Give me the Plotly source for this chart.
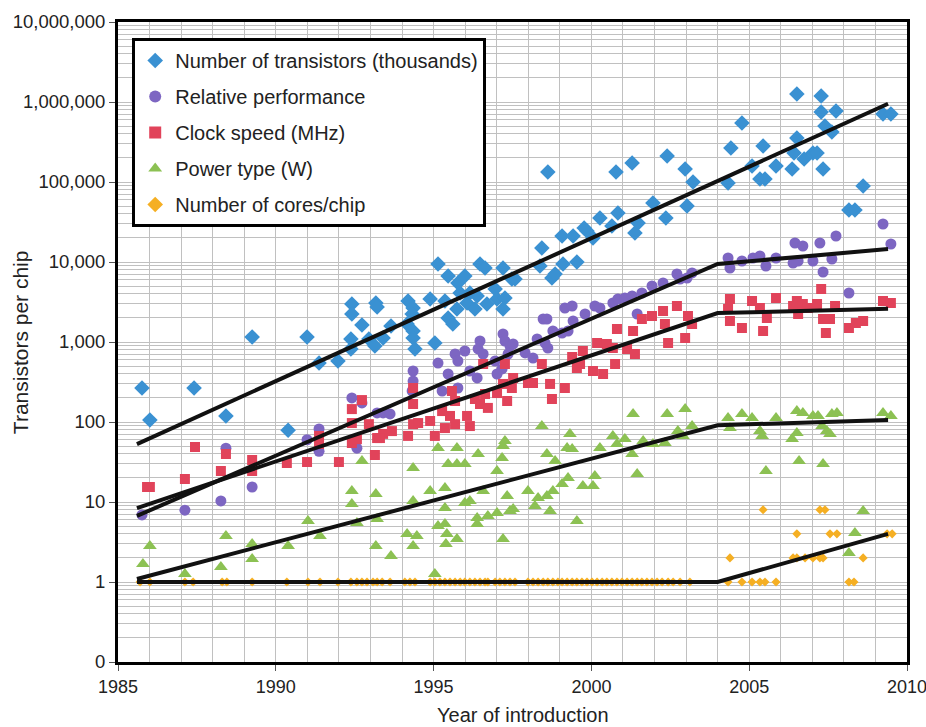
import plotly.graph_objects as go

# ---------------- data (year, value) ----------------
transistors = [
    (1985.76, 266), (1986.01, 106), (1987.41, 266), (1988.42, 119), (1989.25, 1155),
    (1990.39, 79), (1990.99, 1155), (1991.37, 546), (1991.97, 579), (1992.41, 2985),
    (1992.41, 2239), (1992.73, 1631), (1992.38, 1090), (1992.38, 818), (1993.17, 3073),
    (1993.21, 2738), (1992.95, 1090), (1993.14, 891), (1993.40, 1122), (1993.65, 1585),
    (1994.19, 3255), (1994.35, 2661), (1994.32, 2239), (1994.16, 1679), (1994.35, 1372),
    (1994.35, 1122), (1994.41, 818), (1994.89, 3447), (1995.04, 972), (1995.14, 9441),
    (1995.46, 6683), (1995.77, 5464), (1995.84, 4098), (1995.99, 6683), (1995.36, 3255),
    (1995.46, 1995), (1995.61, 1679), (1995.74, 2585), (1996.06, 3073), (1996.31, 2585),
    (1996.15, 4098), (1996.38, 3758), (1996.47, 9441), (1996.63, 8414), (1996.69, 2985),
    (1996.95, 4597), (1997.01, 3447), (1997.20, 8414), (1997.26, 3548), (1997.20, 2585),
    (1997.48, 6131), (1997.58, 6131), (1998.43, 14962), (1998.37, 8913), (1998.75, 6310),
    (1998.85, 7079), (1999.07, 21135), (1998.62, 133352), (1999.10, 9441), (1999.42, 21135),
    (1999.86, 24409), (2001.38, 23041), (1999.77, 26607), (2000.05, 19953), (2000.27, 35481),
    (2000.65, 28184), (2000.84, 40973), (2000.78, 133352), (2001.29, 172783), (2001.48, 30726),
    (2001.95, 54638), (2002.36, 35481), (2002.40, 211349), (2002.97, 145378), (2003.03, 50119),
    (2003.22, 100000), (2004.33, 97163), (2004.42, 266073), (2004.77, 546387), (2005.09, 158489),
    (2005.34, 109018), (2005.50, 109018), (2005.44, 281838), (2005.85, 158489), (2006.36, 145378),
    (2006.42, 230409), (2006.51, 354813), (2006.51, 1258925), (2006.74, 193865), (2007.02, 230409),
    (2007.15, 230409), (2007.34, 145378), (2007.28, 1188502), (2007.28, 749894), (2007.40, 501187),
    (2007.62, 421697), (2007.75, 772000), (2008.16, 44668), (2008.35, 44668), (2008.61, 89125),
    (2009.24, 707946), (2009.49, 707946), (1999.54, 10000),
]

performance = [
    (1985.76, 6.9), (1987.12, 7.9), (1988.26, 10.3), (1989.25, 15.4), (1988.42, 47),
    (1990.99, 60), (1991.37, 82), (1991.37, 43), (1992.41, 200), (1992.73, 173),
    (1992.57, 47), (1993.21, 130), (1993.40, 130), (1993.62, 126), (1994.35, 434),
    (1994.35, 325), (1994.32, 244), (1995.14, 546), (1995.46, 398), (1995.68, 708),
    (1995.77, 579), (1995.99, 772), (1995.77, 266), (1995.27, 244), (1996.15, 434),
    (1996.38, 355), (1996.41, 818), (1996.47, 1029), (1996.57, 708), (1996.95, 579),
    (1997.01, 398), (1997.20, 1259), (1997.26, 1029), (1997.42, 891), (1997.52, 944),
    (1997.36, 708), (1997.17, 460), (1997.90, 729), (1998.28, 1090), (1998.53, 972),
    (1998.62, 841), (1998.47, 1939), (1998.59, 1939), (1998.15, 631), (1998.78, 1372),
    (1999.07, 1296), (1999.26, 1372), (1999.16, 2661), (1999.39, 2818), (1999.42, 1830),
    (1999.80, 2239), (2000.11, 2818), (2000.27, 2661), (2000.68, 3073), (2000.84, 3447),
    (2001.06, 3548), (2001.29, 3758), (2001.45, 2239), (2001.60, 4098), (2001.92, 5012),
    (2002.27, 5464), (2002.71, 7079), (2002.81, 6131), (2003.03, 6310), (2003.19, 7291),
    (2004.33, 11220), (2004.39, 8414), (2004.77, 10292), (2005.12, 11220), (2005.34, 11885),
    (2005.53, 8913), (2005.85, 11220), (2006.45, 17278), (2006.55, 10292), (2006.70, 15849),
    (2006.39, 9716), (2007.02, 10292), (2007.24, 17278), (2007.34, 7499), (2007.62, 10901),
    (2007.75, 21135), (2008.16, 4098), (2009.24, 29854), (2009.49, 16788),
]

clock = [
    (1985.92, 15.4), (1986.01, 15.4), (1987.12, 19.4), (1987.44, 48.7), (1988.26, 24.4),
    (1988.42, 39.8), (1989.25, 33.5), (1989.25, 24.4), (1990.35, 30.7), (1990.99, 31.6),
    (1991.37, 66.8), (1991.37, 53.1), (1992.00, 31.6), (1992.41, 145), (1992.41, 97),
    (1992.41, 54.6), (1992.73, 188), (1992.95, 94), (1993.14, 38.7), (1993.21, 63),
    (1993.40, 71), (1993.68, 77), (1992.57, 61), (1993.30, 63), (1994.19, 67),
    (1994.35, 94), (1994.35, 168), (1994.35, 266), (1994.51, 97), (1994.89, 103),
    (1995.04, 67), (1995.27, 137), (1995.36, 84), (1995.52, 119), (1995.58, 244),
    (1995.68, 183), (1995.68, 94), (1996.06, 119), (1996.15, 89), (1996.31, 194),
    (1996.47, 168), (1996.63, 224), (1996.72, 150), (1996.57, 531), (1997.01, 230),
    (1997.20, 299), (1997.26, 531), (1997.33, 183), (1997.48, 266), (1997.52, 355),
    (1997.99, 307), (1998.15, 307), (1998.43, 531), (1998.69, 299), (1998.75, 194),
    (1999.16, 266), (1999.39, 649), (1999.54, 473), (1999.64, 531), (1999.73, 772),
    (2000.05, 434), (2000.18, 972), (2000.37, 398), (2000.49, 944), (2000.68, 841),
    (2000.75, 531), (2000.81, 1454), (2001.13, 818), (2001.32, 1372), (2001.38, 708),
    (2001.60, 1939), (2001.92, 2113), (2002.27, 2441), (2002.33, 1679), (2002.43, 972),
    (2002.71, 2818), (2003.06, 2113), (2002.97, 1122), (2003.19, 1679), (2004.39, 3447),
    (2004.33, 2585), (2004.39, 1830), (2004.77, 1496), (2005.09, 3255), (2005.34, 2661),
    (2005.44, 1372), (2005.56, 1995), (2005.85, 3548), (2006.39, 2818), (2006.51, 3255),
    (2006.55, 2239), (2006.70, 2985), (2006.86, 2661), (2007.15, 2985), (2007.28, 4597),
    (2007.34, 1939), (2007.43, 1296), (2007.56, 1939), (2007.72, 2818), (2008.16, 1496),
    (2008.38, 1728), (2008.61, 1830), (2009.24, 3255), (2009.49, 3073),
]

power = [
    (1985.79, 1.68), (1986.01, 2.82), (1987.12, 1.26), (1988.42, 3.76), (1988.26, 1.54),
    (1989.25, 2.98), (1989.25, 1.94), (1990.39, 2.82), (1991.02, 5.79), (1991.40, 3.76),
    (1992.41, 13.7), (1992.41, 9.44), (1992.57, 5.47), (1992.73, 32.5), (1993.17, 12.6),
    (1993.17, 2.82), (1993.21, 6.13), (1993.65, 2.11), (1994.16, 3.98), (1994.35, 2.82),
    (1994.47, 3.76), (1994.35, 26.6), (1994.35, 10.3), (1994.89, 13.7), (1995.14, 47.3),
    (1995.14, 5.01), (1995.36, 15.0), (1995.36, 8.41), (1995.36, 5.31), (1995.42, 3.98),
    (1995.39, 2.98), (1995.46, 29.9), (1995.74, 47.3), (1995.74, 3.45), (1995.74, 29.9),
    (1995.99, 29.9), (1995.99, 9.72), (1996.15, 10.3), (1996.38, 6.31), (1996.38, 5.31),
    (1996.41, 39.8), (1996.57, 13.7), (1996.72, 6.68), (1997.01, 24.4), (1997.01, 7.29),
    (1997.17, 35.5), (1997.20, 50.1), (1997.26, 57.9), (1997.20, 3.45), (1997.33, 11.9),
    (1997.42, 7.72), (1997.52, 8.18), (1997.99, 13.7), (1998.21, 8.91), (1998.31, 11.2),
    (1998.43, 89), (1998.59, 39.8), (1998.59, 11.9), (1998.69, 7.72), (1998.85, 32.5),
    (1998.78, 13.7), (1999.07, 16.8), (1999.23, 47.3), (1999.32, 70.8), (1999.39, 46),
    (1999.26, 20), (1999.54, 5.79), (1999.73, 15.8), (2000.05, 15.8), (2000.11, 21.1),
    (2000.27, 47.3), (2000.68, 66.8), (2000.81, 53.1), (2001.06, 61.3), (2001.29, 39.8),
    (2001.32, 126), (2001.45, 22.4), (2001.64, 57.9), (2001.95, 53.1), (2002.40, 126),
    (2002.33, 54.6), (2002.74, 77), (2002.97, 145), (2002.90, 66.8), (2003.19, 89),
    (2004.33, 112), (2004.39, 84), (2004.77, 126), (2005.09, 112), (2005.34, 77),
    (2005.41, 66.8), (2005.53, 24.4), (2005.85, 112), (2006.36, 61.3), (2006.51, 137),
    (2006.51, 72.9), (2006.58, 32.5), (2006.70, 130), (2007.02, 119), (2007.18, 119),
    (2007.31, 89), (2007.34, 29.9), (2007.46, 77), (2007.62, 126), (2007.78, 130),
    (2007.56, 70.8), (2008.16, 2.30), (2008.35, 4.10), (2008.61, 7.72), (2009.24, 130),
    (2009.49, 119), (1995.04, 1.26),
]

cores = [
    (1985.70, 1), (1986.01, 1), (1987.12, 1), (1987.38, 1), (1988.30, 1), (1988.45, 1),
    (1989.25, 1), (1990.35, 1), (1991.02, 1), (1991.40, 1), (1991.97, 1), (1992.38, 1),
    (1992.57, 1), (1992.73, 1), (1992.89, 1), (1993.08, 1), (1993.21, 1), (1993.37, 1),
    (1993.62, 1), (1994.09, 1), (1994.25, 1), (1994.41, 1), (1994.89, 1), (1995.04, 1),
    (1995.20, 1), (1995.36, 1), (1995.52, 1), (1995.68, 1), (1995.84, 1), (1995.99, 1),
    (1996.15, 1), (1996.31, 1), (1996.47, 1), (1996.63, 1), (1996.72, 1), (1996.95, 1),
    (1997.10, 1), (1997.26, 1), (1997.42, 1), (1997.58, 1), (1997.99, 1), (1998.15, 1),
    (1998.31, 1), (1998.47, 1), (1998.62, 1), (1998.78, 1), (1998.94, 1), (1999.07, 1),
    (1999.23, 1), (1999.39, 1), (1999.54, 1), (1999.70, 1), (1999.86, 1), (2000.02, 1),
    (2000.18, 1), (2000.34, 1), (2000.49, 1), (2000.65, 1), (2000.81, 1), (2000.97, 1),
    (2001.13, 1), (2001.29, 1), (2001.45, 1), (2001.60, 1), (2001.76, 1), (2001.92, 1),
    (2002.08, 1), (2002.24, 1), (2002.43, 1), (2002.59, 1), (2002.81, 1), (2003.12, 1),
    (2004.39, 2), (2004.33, 1), (2004.77, 1), (2005.09, 1), (2005.34, 1), (2005.50, 1),
    (2005.85, 1), (2005.44, 8), (2006.51, 4), (2006.39, 2), (2006.51, 2), (2006.77, 2),
    (2007.02, 2), (2007.24, 2), (2007.34, 2), (2007.24, 8), (2007.40, 8), (2007.56, 4),
    (2007.78, 4), (2008.16, 1), (2008.32, 1), (2008.61, 2), (2009.37, 4), (2009.53, 4),
]

# trend lines (year, value)
trend_transistors = [(1985.6, 53), (2009.4, 950000)]
trend_performance = [(1985.6, 6.7), (2004.0, 9440), (2009.4, 14500)]
trend_clock = [(1985.6, 8.4), (2004.0, 2300), (2009.4, 2600)]
trend_power = [(1985.6, 1.09), (2004.0, 91), (2009.4, 106)]
trend_cores = [(1985.6, 1), (2004.0, 1), (2009.4, 4)]

series_names = ["Number of transistors (thousands)", "Relative performance",
                "Clock speed (MHz)", "Power type (W)", "Number of cores/chip"]
y_tickvals = [0.1, 1, 10, 100, 1000, 10000, 100000, 1000000, 10000000]
y_ticktext = ["0", "1", "10", "100", "1,000", "10,000", "100,000", "1,000,000", "10,000,000"]
x_tickvals = [1985, 1990, 1995, 2000, 2005, 2010]

# ---------------- figure ----------------
FONT = "Liberation Sans, Arial, sans-serif"
TXT = "#222222"
styles = [
    dict(symbol="diamond", size=12, color="#3A91D2"),
    dict(symbol="circle", size=11, color="#7D66C2"),
    dict(symbol="square", size=10, color="#E1435A"),
    dict(symbol="triangle-up", size=12, color="#8CC153"),
    dict(symbol="diamond", size=7, color="#F5AF23"),
]
datasets = [transistors, performance, clock, power, cores]
trends = [trend_transistors, trend_performance, trend_clock, trend_power, trend_cores]

fig = go.Figure()
draw_order = [4, 3, 1, 2, 0]
for i in draw_order:
    pts = datasets[i]
    fig.add_trace(go.Scatter(
        x=[p[0] for p in pts], y=[p[1] for p in pts], mode="markers",
        name=series_names[i], legendgroup=f"g{i}", legendrank=i + 1,
        marker=dict(symbol=styles[i]["symbol"], size=styles[i]["size"],
                    color=styles[i]["color"], line=dict(width=0)),
    ))
for tr in trends:
    fig.add_trace(go.Scatter(
        x=[p[0] for p in tr], y=[p[1] for p in tr], mode="lines",
        line=dict(color="#111111", width=4), showlegend=False, hoverinfo="skip",
    ))

minor_y = [m * 10 ** e for e in range(-1, 7) for m in range(2, 10)]

fig.update_layout(
    width=926, height=727,
    margin=dict(l=118, r=19, t=22, b=65),
    paper_bgcolor="white", plot_bgcolor="white",
    font=dict(family=FONT, size=18, color=TXT),
    legend=dict(x=0.018, y=0.975, xanchor="left", yanchor="top",
                bgcolor="white", bordercolor="black", borderwidth=3,
                font=dict(family=FONT, size=20, color=TXT),
                tracegroupgap=7, itemsizing="constant", traceorder="grouped"),
    xaxis=dict(range=[1985, 2010], tickmode="array", tickvals=x_tickvals,
               ticks="outside", ticklen=6, tickcolor="#555555", tickwidth=1,
               showgrid=True, gridcolor="#c0c0c0", gridwidth=1,
               minor=dict(dtick=1, showgrid=True, gridcolor="#c0c0c0", gridwidth=1, ticks=""),
               showline=True, linecolor="black", linewidth=3, mirror=True,
               zeroline=False, automargin=False, ticklabeloverflow="allow",
               tickfont=dict(family=FONT, size=18, color=TXT)),
    yaxis=dict(type="log", range=[-1, 7], tickmode="array",
               tickvals=y_tickvals, ticktext=y_ticktext,
               ticks="outside", ticklen=6, tickcolor="#555555", tickwidth=1,
               showgrid=True, gridcolor="#c0c0c0", gridwidth=1,
               minor=dict(tickvals=minor_y, showgrid=True, gridcolor="#c0c0c0", gridwidth=1, ticks=""),
               showline=True, linecolor="black", linewidth=3, mirror=True,
               zeroline=False, automargin=False, ticklabeloverflow="allow",
               tickfont=dict(family=FONT, size=18.5, color=TXT)),
    annotations=[
        dict(text="Transistors per chip", xref="paper", yref="paper", x=-0.124, y=0.5,
             xanchor="center", yanchor="middle", textangle=-90, showarrow=False,
             font=dict(family=FONT, size=21, color=TXT)),
        dict(text="Year of introduction", xref="paper", yref="paper", x=0.513, y=-0.083,
             xanchor="center", yanchor="middle", showarrow=False,
             font=dict(family=FONT, size=20, color=TXT)),
    ],
)

fig.write_html("out.html")
